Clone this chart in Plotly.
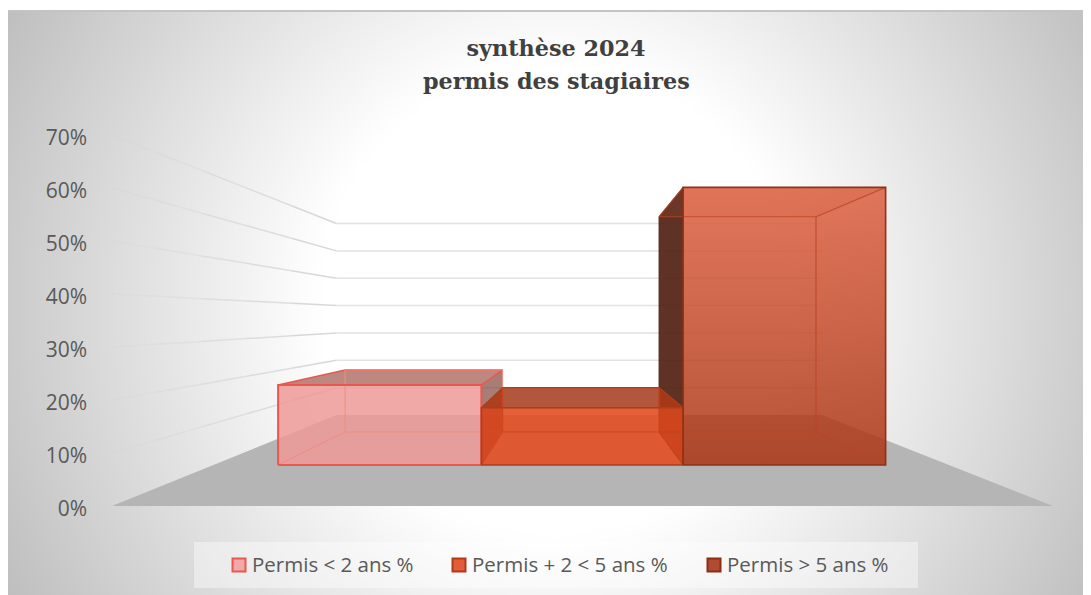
import numpy as np
import plotly.graph_objects as go

# ---- data ----
series = ["Permis < 2 ans %", "Permis + 2 < 5 ans %", "Permis > 5 ans %"]
values = [19.3, 13.8, 67.0]
tick_values = [0, 10, 20, 30, 40, 50, 60, 70]
tick_labels = ["0%", "10%", "20%", "30%", "40%", "50%", "60%", "70%"]
title_line1 = "synthèse 2024"
title_line2 = "permis des stagiaires"

# ---- 3D scene set-up (world -> axis units) ----
VX, VV = 576.0, 35.47          # vanishing point
bar_edges = [-381, -121, 137, 396]
D_FRONT, D_BACK, D_WALL = 0.279, 0.65, 0.937
WALL_L, WALL_R = -464, 477

def proj(X, v, d):
    s = 1 / (1 + d)
    return VX + X * s, VV + (v - VV) * s

def poly(*pts):
    xy = [proj(*p) for p in pts]
    xy.append(xy[0])
    return [a for a, _ in xy], [b for _, b in xy]

PX0, PCT = 506.0, 5.3
def py(p):                     # legend band placement, in axis units
    return (PX0 - p) / PCT

W, H, OFF = 1083, 587, 8       # page body margin is 8px

fig = go.Figure()

# ---- background ----
gx = np.arange(8, 1100, 16.0)
gy = np.arange(10, 604, 16.0)
X, Y = np.meshgrid(gx, gy)
dist = np.hypot(X - 555, Y - 300)
shade = np.clip(255 - (dist - 235) / (612 - 235) * 63, 190, 255)
fig.add_trace(go.Heatmap(x=gx, y=gy, z=shade, zmin=190, zmax=255, zsmooth="best", showscale=False,
                         colorscale=[[0, "rgb(190,190,190)"], [1, "rgb(255,255,255)"]],
                         hoverinfo="skip", xaxis="x", yaxis="y"))
fig.add_trace(go.Scatter(x=[8, 1091], y=[11, 11], mode="lines", line=dict(color="#c4c4c4", width=2),
                         hoverinfo="skip", showlegend=False, xaxis="x", yaxis="y"))

def add(x, y, fill=None, line=None, width=1.5, grad=None, name=None):
    kw = {}
    if fill is not None or grad is not None:
        kw["fill"] = "toself"
    if fill is not None:
        kw["fillcolor"] = fill
    if grad is not None:
        kw["fillgradient"] = grad
    fig.add_trace(go.Scatter(x=x, y=y, mode="lines" if line else "none",
                             line=dict(color=line, width=width) if line else None,
                             hoverinfo="skip", showlegend=False, xaxis="x2", yaxis="y2",
                             name=name, **kw))

# ---- walls ----
for v in tick_values[1:]:
    steps = [0, .2, .4, .6, .8, 1]
    alphas = [.2, .4, .6, .75, .9]
    for k in range(5):
        a = proj(WALL_L, v, 0)
        b = proj(WALL_L, v, D_WALL)
        xs = [a[0] + (b[0] - a[0]) * steps[k + j] for j in (0, 1)]
        ys = [a[1] + (b[1] - a[1]) * steps[k + j] for j in (0, 1)]
        add(xs, ys, line=f"rgba(212,212,212,{alphas[k]})", width=1.5)
    b2 = proj(WALL_R, v, D_WALL)
    add([b[0], b2[0]], [b[1], b2[1]], line="rgb(226,226,226)", width=1.5)

# ---- floor ----
fx, fy = poly((WALL_L, 0, 0), (WALL_R, 0, 0), (WALL_R, 0, D_WALL), (WALL_L, 0, D_WALL))
add(fx, fy, fill="rgb(181,181,181)")

def corners(i):
    L, R = bar_edges[i], bar_edges[i + 1]
    h = values[i]
    return L, R, h

F, B = D_FRONT, D_BACK

# bar 3: dark left side (behind the other two)
L, R, h = corners(2)
x, y = poly((L, 0, F), (L, h, F), (L, h, B), (L, 0, B))
add(x, y, fill="rgba(76,29,13,0.9)", line="rgba(90,40,25,0.9)", width=1)

# bar 1
L, R, h = corners(0)
x, y = poly((R, 0, F), (R, h, F), (R, h, B), (R, 0, B))
add(x, y, fill="rgba(130,70,60,0.7)")
x, y = poly((L, h, F), (R, h, F), (R, h, B), (L, h, B))
add(x, y, fill="rgba(160,85,74,0.7)", line="#e8584f", width=1.5)
x, y = poly((L, 0, F), (R, 0, F), (R, h, F), (L, h, F))
add(x, y, fill="rgba(237,154,150,0.85)", name=series[0])
for seg in ([(L, 0, F), (L, 0, B), (L, h, B)], [(L, 0, B), (R, 0, B), (R, h, B)],
            [(R, 0, F), (R, 0, B)], [(L, h, B), (R, h, B)]):
    pts = [proj(*p) for p in seg]
    add([p[0] for p in pts], [p[1] for p in pts], line="rgb(243,140,130)", width=1)
x, y = poly((L, 0, F), (R, 0, F), (R, h, F), (L, h, F))
add(x, y, line="#e8584f", width=2)

# bar 2
L, R, h = corners(1)
x, y = poly((L, h, F), (R, h, F), (R, h, B), (L, h, B))
add(x, y, fill="rgba(165,58,25,0.85)", line="#ac3e1c", width=1.2)
x, y = poly((L, 0, F), (R, 0, F), (R, h, F), (L, h, F))
add(x, y, fill="rgba(226,78,36,0.9)", name=series[1])
for side in (L, R):
    x, y = poly((side, 0, F), (side, h, F), (side, h, B), (side, 0, B))
    add(x, y, fill="rgba(190,55,15,0.3)")
for seg in ([(L, 0, B), (R, 0, B)], [(L, h, B), (L, 0, B), (L, 0, F)], [(R, h, B), (R, 0, B), (R, 0, F)]):
    pts = [proj(*p) for p in seg]
    add([p[0] for p in pts], [p[1] for p in pts], line="rgb(205,72,32)", width=1)
x, y = poly((L, 0, F), (R, 0, F), (R, h, F), (L, h, F))
add(x, y, line="#ac3e1c", width=1.6)

# bar 3
L, R, h = corners(2)
x, y = poly((L, h, F), (R, h, F), (R, h, B), (L, h, B))
add(x, y, fill="rgba(190,80,50,0.15)")
x, y = poly((L, 0, F), (R, 0, F), (R, h, F), (L, h, F))
add(x, y, name=series[2], grad=dict(type="vertical", colorscale=[[0, "rgba(170,52,18,0.85)"], [1, "rgba(221,96,64,0.85)"]]))
for seg in ([(L, h, B), (R, h, B), (R, 0, B), (L, 0, B)], [(L, h, F), (L, h, B)], [(R, h, F), (R, h, B)],
            [(R, 0, F), (R, 0, B)], [(L, 0, F), (L, 0, B)]):
    pts = [proj(*p) for p in seg]
    add([p[0] for p in pts], [p[1] for p in pts], line="rgba(185,70,38,0.8)", width=1.2)
x, y = poly((L, 0, F), (R, 0, F), (R, h, F), (L, h, F))
add(x, y, line="#8e3218", width=1.6)

# ---- legend ----
add([194, 918, 918, 194, 194], [py(542), py(542), py(588), py(588), py(542)], fill="rgba(255,255,255,0.4)")
leg_x = [239, 459, 714]
leg_fill = ["#f0a9a6", "#e35c38", "#b04a30"]
leg_line = ["#e8584f", "#b03a18", "#8a2e14"]
for nm, lx, fc, lc in zip(series, leg_x, leg_fill, leg_line):
    fig.add_trace(go.Scatter(x=[lx], y=[py(565)], mode="markers",
                             marker=dict(symbol="square", size=13, color=fc, line=dict(color=lc, width=2)),
                             hoverinfo="skip", showlegend=False, xaxis="x2", yaxis="y2", name=nm))
    fig.add_trace(go.Scatter(x=[lx + 13], y=[py(567)], mode="text", text=[nm], textposition="middle right",
                             textfont=dict(family="Open Sans", size=20.5, color="#595959"),
                             hoverinfo="skip", showlegend=False, xaxis="x2", yaxis="y2", name=nm))

title_font = dict(family="DejaVu Serif", size=22.3, color="#404040", weight="bold")
fig.update_layout(
    width=W, height=H, autosize=False,
    margin=dict(l=0, r=0, t=0, b=0),
    paper_bgcolor="white", plot_bgcolor="rgba(0,0,0,0)",
    showlegend=False,
    title=dict(text=title_line1, x=(556 - OFF) / W, y=1 - (48 - OFF) / H, xanchor="center", yanchor="middle",
               font=title_font),
    annotations=[dict(text=title_line2, xref="paper", yref="paper", x=(556 - OFF) / W, y=1 - (81 - OFF) / H,
                      xanchor="center", yanchor="middle", showarrow=False, font=title_font)],
    xaxis=dict(domain=[0, 1], range=[8, 1091], visible=False, fixedrange=True),
    yaxis=dict(domain=[0, 585 / H], range=[595, 10], visible=False, fixedrange=True),
    xaxis2=dict(domain=[(93 - OFF) / W, 1], range=[93, 1091], visible=False, fixedrange=True, anchor="y2"),
    yaxis2=dict(domain=[0, 1], range=[(PX0 - 595) / PCT, (PX0 - OFF) / PCT], anchor="x2", fixedrange=True,
                tickmode="array", tickvals=tick_values, ticktext=tick_labels,
                tickfont=dict(family="Open Sans", size=21, color="#595959"),
                showgrid=False, zeroline=False, showline=False, ticks="", ticklabelstandoff=5,
                ticklabelshift=3),
)
fig.write_html("out.html")
